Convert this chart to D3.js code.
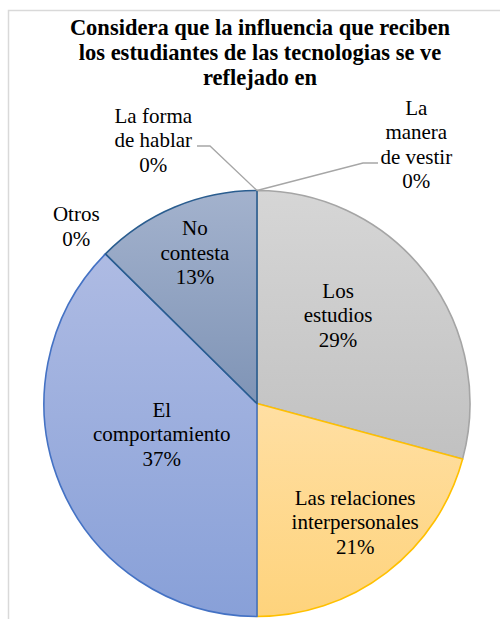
<!doctype html>
<html>
<head>
<meta charset="utf-8">
<style>
    body { margin: 0; background: #fff; }
</style>
<script src="https://d3js.org/d3.v7.min.js"></script>
</head>
<body>
<svg width="500" height="619"></svg>
<script>
// data, clockwise from 12 o'clock
var categories = ["La manera de vestir", "Los estudios", "Las relaciones interpersonales",
                  "El comportamiento", "Otros", "No contesta", "La forma de hablar"];
var values = [0, 29.2, 20.8, 37.4, 0, 12.6, 0];
var titleLines = ["Considera que la influencia que reciben",
                  "los estudiantes de las tecnologias se ve",
                  "reflejado en"];

// how each label is broken into lines
var labelLines = {
    "La manera de vestir": ["La", "manera", "de vestir"],
    "Los estudios": ["Los", "estudios"],
    "Las relaciones interpersonales": ["Las relaciones", "interpersonales"],
    "El comportamiento": ["El", "comportamiento"],
    "Otros": ["Otros"],
    "No contesta": ["No", "contesta"],
    "La forma de hablar": ["La forma", "de hablar"]
};

// slice styles (top colour, bottom colour, outline)
var styles = {
    "Los estudios": ["#d6d6d6", "#c1c1c1", "#a5a5a5"],
    "Las relaciones interpersonales": ["#ffdfa3", "#fed37c", "#ffc000"],
    "El comportamiento": ["#aebbe3", "#88a0d8", "#4472c4"],
    "No contesta": ["#a3b2cd", "#7f94b6", "#2a5d8f"]
};

// label centre, as [angle in degrees clockwise from top, distance from centre]
var labelPos = {
    "La manera de vestir": [31.6, 304],
    "Los estudios": [42.5, 120],
    "Las relaciones interpersonales": [140.4, 154],
    "El comportamiento": [252.2, 100],
    "Otros": [314.4, 253],
    "No contesta": [337.6, 163],
    "La forma de hablar": [338.5, 283]
};
// leader lines for the empty slices: elbow point and end point, relative to centre
var leaders = {
    "La manera de vestir": [[106, -240.5], [121, -240.5]],
    "La forma de hablar": [[-47, -257.5], [-60, -257.5]]
};

var serif = "'Liberation Serif', 'Times New Roman', Times, serif";
var svg = d3.select("svg");
var cx = 257, cy = 403.5, radius = 213;

// outer chart frame
svg.append("rect")
    .attr("x", 8.5).attr("y", 10.5)
    .attr("width", 600).attr("height", 700)
    .attr("fill", "none")
    .attr("stroke", "#d9d9d9")
    .attr("stroke-width", 1.5);

svg.append("text")
    .attr("font-family", serif)
    .attr("font-weight", "bold")
    .attr("font-size", 22.5)
    .attr("text-anchor", "middle")
    .selectAll("tspan")
    .data(titleLines)
    .enter().append("tspan")
    .attr("x", 260)
    .attr("y", function(d, i) { return 35 + i * 25; })
    .text(function(d) { return d; });

var data = categories.map(function(c, i) { return { name: c, value: values[i] }; });
var total = d3.sum(values);

var pie = d3.pie().sort(null).value(function(d) { return d.value; });
var arc = d3.arc().innerRadius(0).outerRadius(radius);
var arcs = pie(data);

var defs = svg.append("defs");
Object.keys(styles).forEach(function(k, i) {
    var gr = defs.append("linearGradient")
        .attr("id", "grad" + i)
        .attr("x1", 0).attr("y1", 0).attr("x2", 0).attr("y2", 1);
    gr.append("stop").attr("offset", "0%").attr("stop-color", styles[k][0]);
    gr.append("stop").attr("offset", "100%").attr("stop-color", styles[k][1]);
    styles[k].push("url(#grad" + i + ")");
});

var g = svg.append("g").attr("transform", "translate(" + cx + "," + cy + ")");

g.selectAll("path.slice")
    .data(arcs.filter(function(d) { return d.value > 0; }))
    .enter().append("path")
    .attr("class", "slice")
    .attr("d", arc)
    .attr("fill", function(d) { return styles[d.data.name][3]; })
    .attr("stroke", function(d) { return styles[d.data.name][2]; })
    .attr("stroke-width", 1.6)
    .attr("stroke-linejoin", "round");

// leader lines for 0% slices
arcs.forEach(function(d) {
    var pts = leaders[d.data.name];
    if (!pts) return;
    var a = d.startAngle;
    var start = [radius * Math.sin(a), -radius * Math.cos(a)];
    g.append("path")
        .attr("d", d3.line()([start, pts[0], pts[1]]))
        .attr("fill", "none")
        .attr("stroke", "#a6a6a6")
        .attr("stroke-width", 1.3);
});

var fmt = d3.format(".0%");
var lh = 24.5;
arcs.forEach(function(d) {
    var lines = labelLines[d.data.name].concat([fmt(d.value / total)]);
    var p = labelPos[d.data.name];
    var a = p[0] * Math.PI / 180;
    var x = p[1] * Math.sin(a), y = -p[1] * Math.cos(a);
    var t = g.append("text")
        .attr("font-family", serif)
        .attr("font-size", 21)
        .attr("fill", "#000")
        .attr("text-anchor", "middle");
    t.selectAll("tspan")
        .data(lines)
        .enter().append("tspan")
        .attr("x", x)
        .attr("y", function(s, i) { return y + (i - (lines.length - 1) / 2) * lh + 7; })
        .text(function(s) { return s; });
});
</script>
</body>
</html>
